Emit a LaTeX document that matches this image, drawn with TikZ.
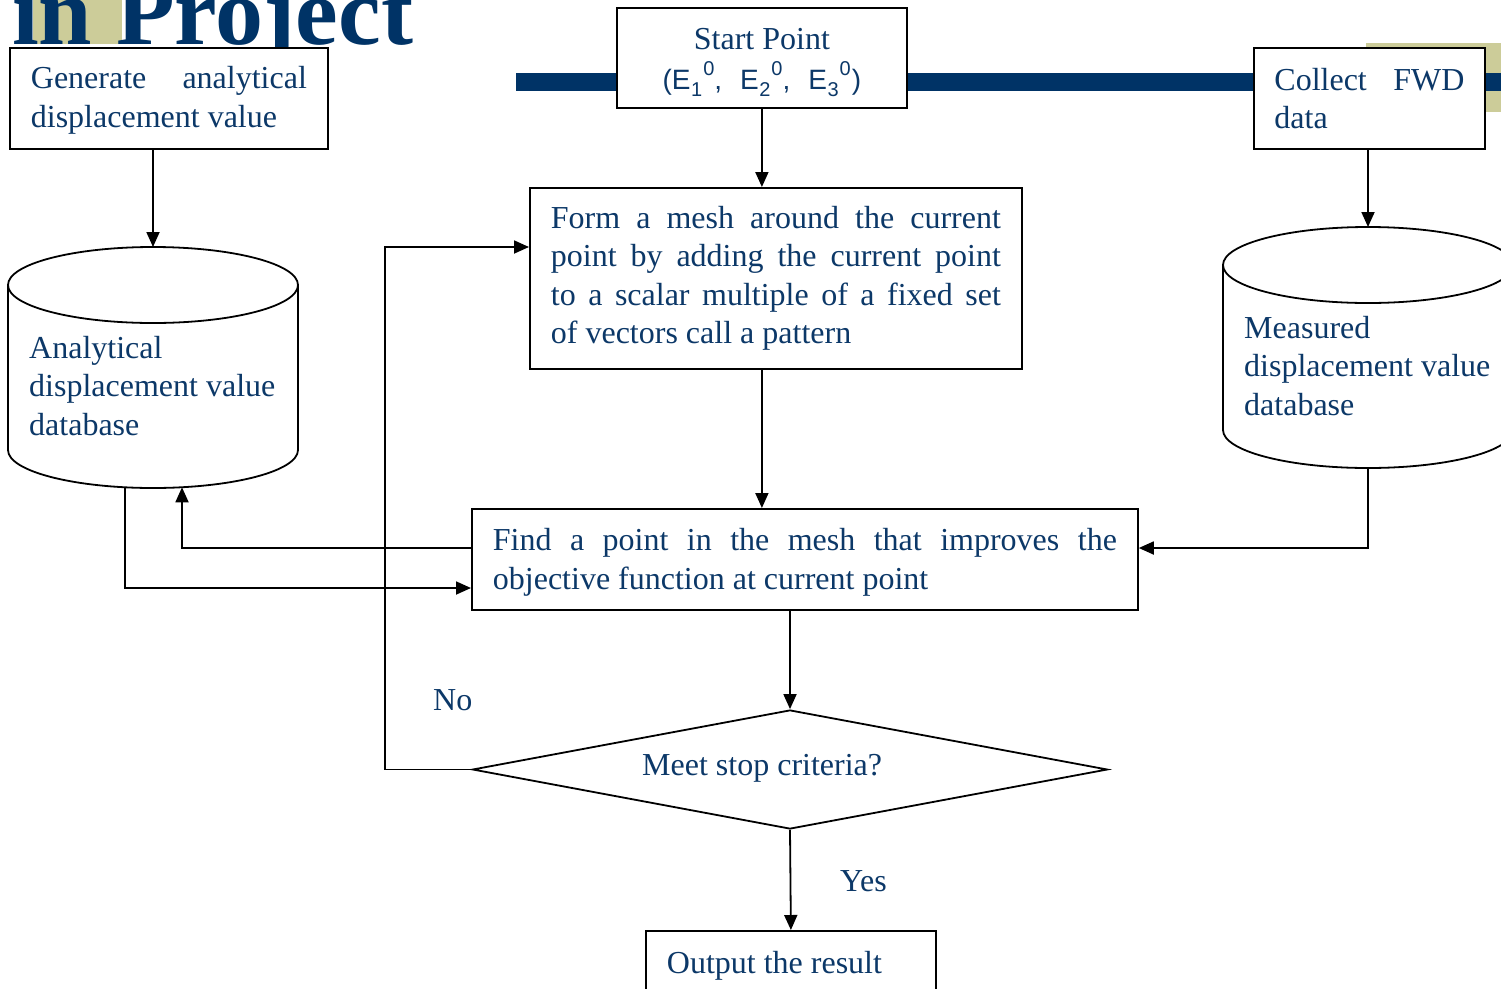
\documentclass[tikz,border=0pt]{standalone}
\usepackage{fontspec}
\setmainfont{Liberation Serif}
\newfontfamily\sansf{Liberation Sans}
\usetikzlibrary{arrows.meta,shapes.geometric,calc}
\definecolor{txtblue}{RGB}{12,56,104}
\definecolor{navybar}{RGB}{0,51,102}
\definecolor{beigesq}{RGB}{204,204,153}
\newcommand\mysubx[1]{\kern0.5pt\raisebox{-0.28em}{\fontsize{20}{20}\selectfont #1}}
\newcommand\mysupx[1]{\kern1pt\raisebox{0.5em}{\fontsize{20}{20}\selectfont #1}}
\newcommand\nsp{\spaceskip=0pt\xspaceskip=0pt\relax}
\newcommand\jline[2]{\leavevmode\hbox to #1{#2}}
\begin{document}
\begin{tikzpicture}[x=1pt,y=-1pt,
  box/.style={draw=black, line width=1.8pt, fill=white, rectangle, inner sep=0pt,
    text=txtblue, font=\fontsize{32}{38.5}\selectfont, align=left},
  conn/.style={line width=1.8pt, draw=black},
  arr/.style={conn, -{Triangle[length=15pt,width=13pt]}},
  lbl/.style={text=txtblue, font=\fontsize{32}{38.5}\selectfont, inner sep=0pt}]
\useasboundingbox (0,0) rectangle (1501,988);
% background decorations
\fill[beigesq] (33,0) rectangle (122,44);
\fill[beigesq] (1366,43) rectangle (1501,112);
\node[anchor=base west, inner sep=0pt, text=navybar,
  font=\fontsize{96}{96}\selectfont\bfseries] (title) at (12,44) {in Project};
\fill[navybar] (516,73) rectangle (1501,91);

% boxes
\node[box, anchor=north west, minimum width=318, minimum height=101, text width=276pt]
  (gen) at (9,47) {\nsp\rule{0pt}{26pt}\jline{276pt}{Generate\hfill analytical}\\displacement value};
\node[box, anchor=north west, minimum width=290, minimum height=100, align=center]
  (start) at (616,7) {\nsp\rule{0pt}{31pt}Start Point\\[1pt]{\sansf\fontsize{28}{30}\selectfont
  (E\mysubx{1}\mysupx{0},\hspace{18pt}E\mysubx{2}\mysupx{0},\hspace{18pt}E\mysubx{3}\mysupx{0}\kern1pt)}};
\node[box, anchor=north west, minimum width=231, minimum height=101, text width=190pt]
  (col) at (1253,47) {\nsp\jline{190pt}{Collect\hfill FWD}\\data};
\node[box, anchor=north west, minimum width=492, minimum height=181, text width=450pt]
  (form) at (529,187) {\nsp\jline{450pt}{Form\hfill a\hfill mesh\hfill around\hfill the\hfill current}\\
  \jline{450pt}{point\hfill by\hfill adding\hfill the\hfill current\hfill point}\\
  \jline{450pt}{to\hfill a\hfill scalar\hfill multiple\hfill of\hfill a\hfill fixed\hfill set}\\
  of vectors call a pattern};
\node[box, anchor=north west, minimum width=666, minimum height=101, text width=624pt]
  (find) at (471,508) {\nsp\rule{0pt}{28pt}\jline{624pt}{Find\hfill a\hfill point\hfill in\hfill the\hfill mesh\hfill that\hfill improves\hfill the}\\
  objective function at current point};
\node[draw=black, line width=1.8pt, fill=white, diamond, inner sep=0pt,
  minimum width=635, minimum height=119] (dia) at (790,769.5) {};
\node[lbl, anchor=base west] (diatext) at (642,775) {\nsp Meet stop criteria?};
\node[box, anchor=north west, minimum width=290, minimum height=70, text width=248pt]
  (out) at (645,930) {\nsp Output the result};

% left cylinder
\draw[conn, fill=white] (8,285) -- (8,450)
  arc[start angle=180, end angle=360, x radius=145pt, y radius=38pt]
  -- (298,285) arc[start angle=0, end angle=180, x radius=145pt, y radius=38pt];
\draw[conn] (8,285) arc[start angle=180, end angle=360, x radius=145pt, y radius=38pt];
\node[lbl, anchor=north west, align=left] (lcyl) at (29,336)
  {\nsp Analytical\\displacement value\\database};
\coordinate (lcT) at (153,247);
\coordinate (lcB1) at (125,487.3);
\coordinate (lcB2) at (182,487.3);

% right cylinder
\draw[conn, fill=white] (1223,265) -- (1223,430)
  arc[start angle=180, end angle=360, x radius=145pt, y radius=38pt]
  -- (1513,265) arc[start angle=0, end angle=180, x radius=145pt, y radius=38pt];
\draw[conn] (1223,265) arc[start angle=180, end angle=360, x radius=145pt, y radius=38pt];
\node[lbl, anchor=north west, align=left] (rcyl) at (1244,316)
  {\nsp Measured\\displacement value\\database};
\coordinate (rcT) at (1368,227);
\coordinate (rcB) at (1368,468);

% helper coordinates
\coordinate (findL1) at ($(find.north west)+(0,40)$);
\coordinate (findL2) at ($(find.north west)+(0,80)$);
\coordinate (findR1) at ($(find.north east)+(0,40)$);
\coordinate (formL) at ($(form.north west)+(0,60)$);
\coordinate (loopX) at (385,0);

% connectors
\draw[arr] (gen.south -| lcT) -- (lcT);
\draw[arr] (start.south) -- (start.south |- form.north);
\draw[arr] (col.south -| rcT) -- (rcT);
\draw[arr] (start.south |- form.south) -- (start.south |- find.north);
\draw[arr] (rcB) |- (findR1);
\draw[arr] (findL1) -| (lcB2);
\draw[arr] (lcB1) |- (findL2);
\draw[arr] (dia.north |- find.south) -- (dia.north);
\draw[arr] (dia.west) -- (dia.west -| loopX) -- (loopX |- formL) -- (formL);
\draw[arr] (dia.south) -- (out.north);

% labels
\node[lbl, anchor=base west] (no) at (433,710) {\nsp No};
\node[lbl, anchor=base west] (yes) at (840,891) {\nsp Yes};
\end{tikzpicture}
\end{document}
